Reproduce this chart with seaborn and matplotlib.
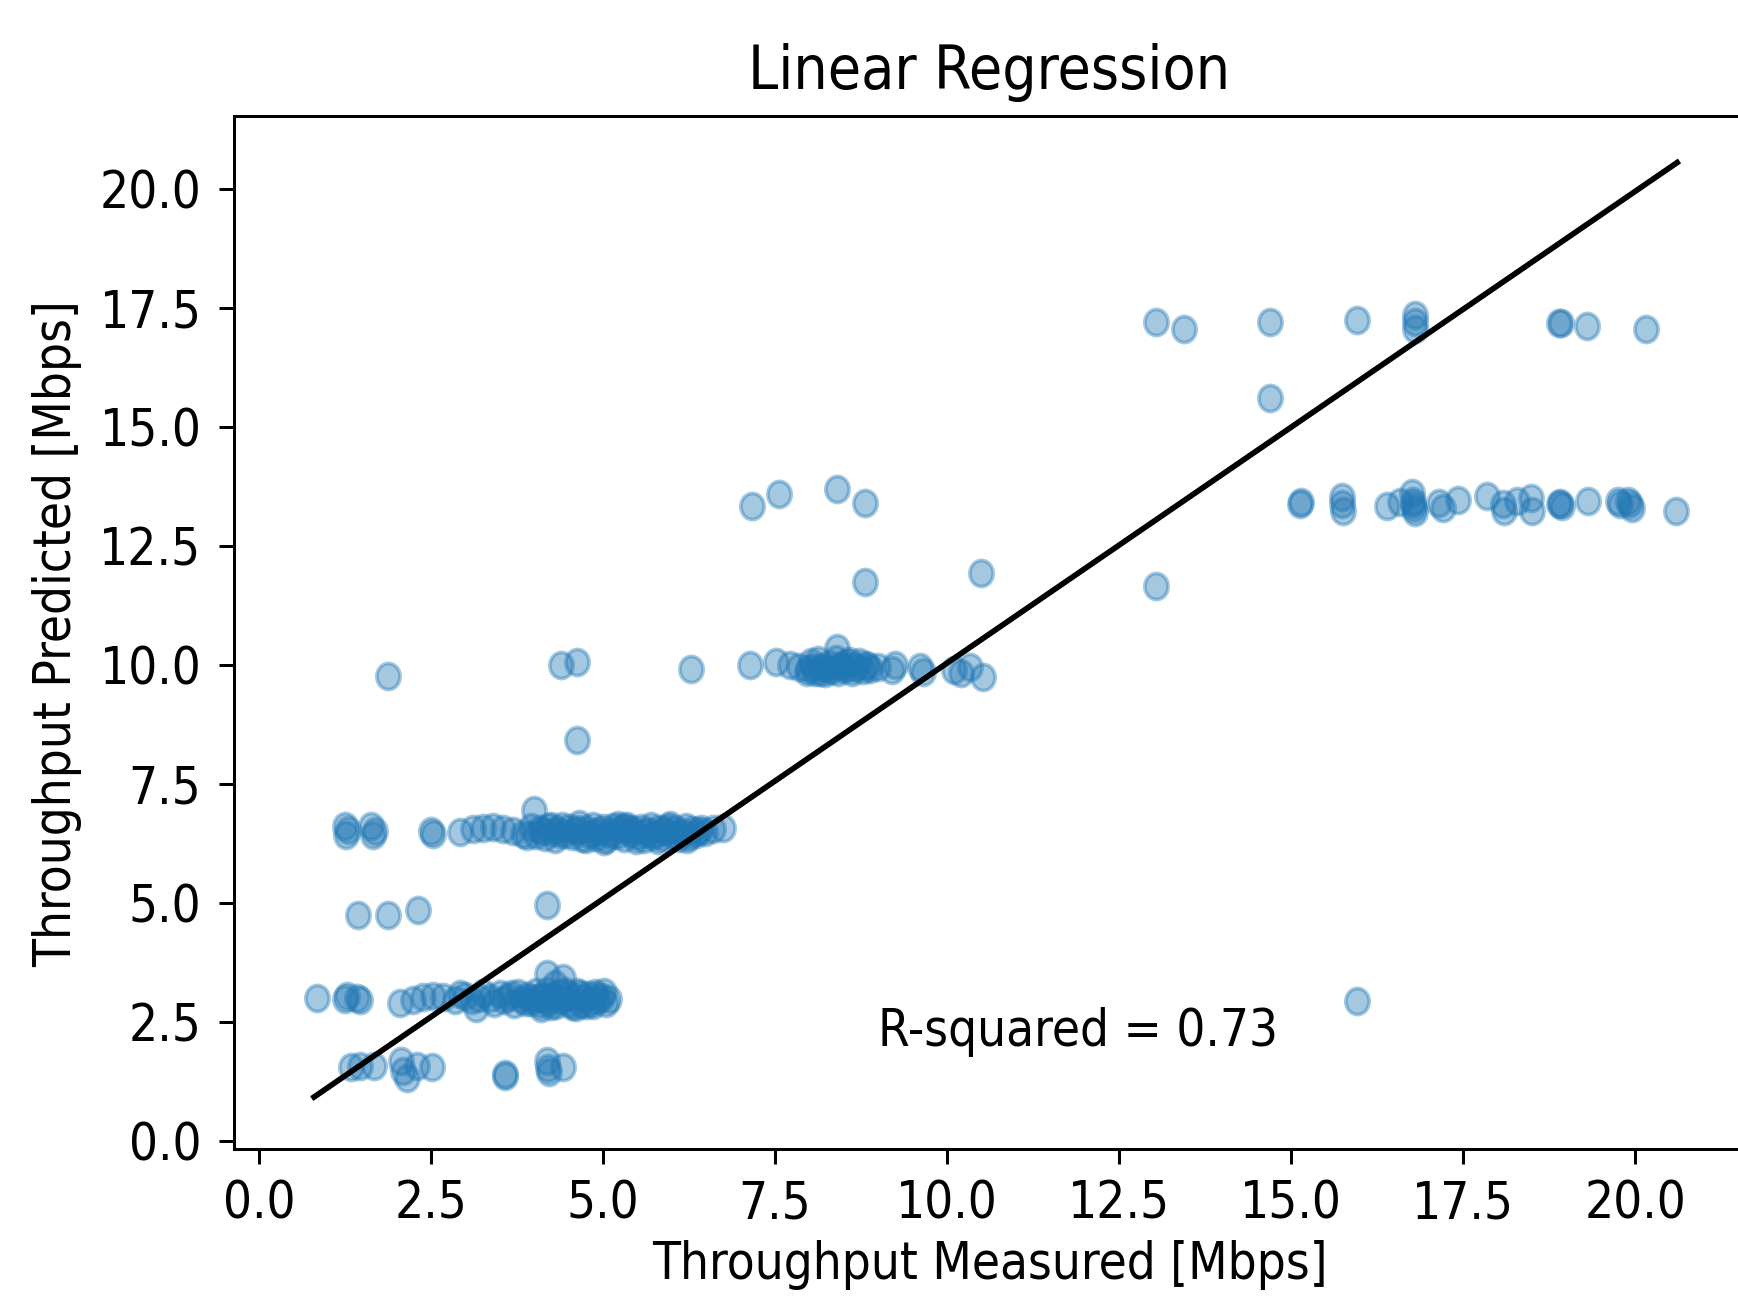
import numpy as np
import pandas as pd
import matplotlib
matplotlib.use("Agg")
import matplotlib.pyplot as plt
from matplotlib.path import Path
import seaborn as sns

# measured vs predicted throughput
# lowest band (~1.5 Mbps predicted)
x_band1 = [1.33, 1.47, 1.67, 2.07, 2.09, 2.15, 2.29, 2.52, 3.57, 3.58, 4.18, 4.20, 4.22, 4.42]
y_band1 = [1.55, 1.58, 1.58, 1.68, 1.46, 1.32, 1.58, 1.56, 1.36, 1.40, 1.68, 1.52, 1.45, 1.55]

# ~3 Mbps band
x_band3 = [0.84, 1.25, 1.28, 1.42, 1.47, 2.05, 2.24, 2.38, 2.53, 2.67, 2.85, 2.92, 3.00, 3.10,
           3.16, 3.20, 3.25,
           3.36, 3.42, 3.50, 3.56, 3.62, 3.70, 3.76, 3.82, 3.90, 3.96, 4.02, 4.08, 4.12, 4.18,
           4.22, 4.28, 4.32, 4.38, 4.42, 4.48, 4.52, 4.58, 4.62, 4.68, 4.72, 4.78, 4.82, 4.88,
           4.92, 4.98, 5.02, 5.08, 4.19, 4.42, 4.30, 4.10, 4.60, 4.85,
           3.66, 3.86, 4.05, 4.25, 4.45, 4.55, 4.66, 4.75, 4.90, 5.05, 4.35, 4.15, 3.95]
y_band3 = [3.00, 2.98, 3.05, 3.00, 2.95, 2.90, 2.95, 3.02, 3.05, 3.02, 2.95, 3.08, 3.05, 2.95,
           2.78, 3.00, 3.10,
           3.00, 2.90, 3.08, 2.95, 3.02, 2.88, 3.10, 2.98, 3.05, 2.92, 3.12, 2.88, 3.00, 3.15,
           2.92, 3.05, 2.86, 3.10, 2.98, 3.08, 2.90, 3.02, 3.12, 2.88, 3.00, 3.06, 2.92, 3.10,
           2.95, 3.02, 3.12, 2.98, 3.50, 3.42, 3.30, 2.80, 2.82, 2.86,
           3.08, 2.92, 3.00, 2.84, 3.14, 2.84, 3.08, 2.86, 3.04, 2.90, 2.96, 3.05, 3.00]

# ~4.8 Mbps points
x_band5 = [1.44, 1.88, 2.31, 4.18]
y_band5 = [4.75, 4.75, 4.85, 4.95]

# ~6.5 Mbps band
x_band65 = [1.25, 1.27, 1.30, 1.63, 1.66, 1.68, 2.50, 2.53, 2.92, 3.11, 3.26, 3.40, 3.55, 3.69,
            3.84, 3.95, 3.99, 3.90,
            4.02, 4.08, 4.15, 4.20, 4.26, 4.30, 4.35, 4.40, 4.45, 4.50, 4.55, 4.60, 4.65, 4.70,
            4.75, 4.80, 4.85, 4.90, 4.95, 5.00, 5.05, 5.10, 5.15, 5.20, 5.25, 5.30, 5.35, 5.40,
            5.45, 5.50, 5.55, 5.60, 5.65, 5.70, 5.75, 5.80, 5.85, 5.90, 5.95, 6.00, 6.05, 6.10,
            6.15, 6.20, 6.25, 6.30, 6.35, 6.42, 6.48, 6.60, 6.74,
            5.02, 5.22, 5.48, 5.72, 5.98, 6.22,
            4.12, 4.38, 4.62, 4.88, 5.12, 5.38, 5.62, 5.88, 6.12, 6.38, 4.25, 4.75, 5.30, 5.80]
y_band65 = [6.62, 6.42, 6.52, 6.62, 6.42, 6.50, 6.50, 6.45, 6.48, 6.55, 6.58, 6.60, 6.55, 6.50,
            6.45, 6.60, 6.95, 6.40,
            6.42, 6.55, 6.38, 6.60, 6.48, 6.35, 6.52, 6.62, 6.45, 6.58, 6.40, 6.50, 6.65, 6.36,
            6.55, 6.45, 6.62, 6.38, 6.50, 6.58, 6.34, 6.48, 6.60, 6.42, 6.55, 6.36, 6.62, 6.46,
            6.52, 6.40, 6.58, 6.34, 6.50, 6.62, 6.44, 6.56, 6.38, 6.50, 6.60, 6.42, 6.54, 6.36,
            6.48, 6.60, 6.40, 6.52, 6.44, 6.56, 6.48, 6.55, 6.58,
            6.30, 6.64, 6.32, 6.40, 6.64, 6.34,
            6.50, 6.44, 6.54, 6.48, 6.42, 6.56, 6.46, 6.52, 6.44, 6.50, 6.62, 6.34, 6.60, 6.32]

# ~10 Mbps band
x_band10 = [7.14, 7.52, 7.72, 7.85, 7.96,
            7.98, 8.02, 8.08, 8.12, 8.18, 8.22, 8.28, 8.32, 8.38, 8.42, 8.48, 8.52, 8.58, 8.62,
            8.68, 8.72, 8.78, 8.82, 8.88, 8.40,
            9.00, 9.20, 9.25, 9.60, 9.65, 10.10, 10.20, 10.33, 10.52,
            8.05, 8.25, 8.45, 8.65, 8.85, 8.15, 8.55]
y_band10 = [10.00, 10.05, 10.00, 9.95, 9.85,
            9.92, 10.05, 9.85, 10.10, 9.95, 9.82, 10.02, 9.90, 10.12, 9.85, 10.00, 9.92, 10.08,
            9.84, 9.98, 10.06, 9.88, 10.00, 9.92, 10.35,
            9.95, 9.90, 10.00, 9.95, 9.85, 9.88, 9.82, 9.95, 9.75,
            9.96, 9.94, 9.96, 9.94, 9.98, 9.84, 10.04]

# ~13.4 Mbps band
x_band13 = [15.13, 15.15, 15.74, 15.74, 15.76, 16.39, 16.58, 16.75, 16.77, 16.78, 16.80, 16.77,
            17.15, 17.20, 17.43, 17.84, 18.08, 18.10, 18.28, 18.49, 18.50, 18.89, 18.91, 18.93,
            19.32, 19.75, 19.78, 19.90, 19.93, 19.95, 20.60]
y_band13 = [13.38, 13.42, 13.52, 13.38, 13.23, 13.34, 13.42, 13.60, 13.45, 13.30, 13.20, 13.38,
            13.40, 13.30, 13.47, 13.55, 13.38, 13.23, 13.45, 13.50, 13.22, 13.38, 13.40, 13.34,
            13.45, 13.45, 13.38, 13.45, 13.38, 13.30, 13.24]

# ~17.2 Mbps band
x_band17 = [13.03, 13.45, 14.70, 15.96, 16.80, 16.80, 16.80, 18.90, 18.92, 19.30, 20.16]
y_band17 = [17.20, 17.06, 17.20, 17.24, 17.35, 17.20, 17.05, 17.17, 17.17, 17.12, 17.06]

# scattered outliers
x_other = [1.88, 4.39, 4.62, 4.62, 6.28, 7.16, 7.56, 8.40, 8.80, 8.80, 10.50,
           14.70, 13.03, 15.96]
y_other = [9.76, 9.99, 10.06, 8.42, 9.92, 13.34, 13.59, 13.70, 13.40, 11.73, 11.92,
           15.60, 11.66, 2.94]

# fitted regression line
fit_x = [0.80, 20.61]
fit_y = [0.92, 20.55]
r_squared = 0.73

df = pd.DataFrame({
    "measured": x_band1 + x_band3 + x_band5 + x_band65 + x_band10 + x_band13 + x_band17 + x_other,
    "predicted": y_band1 + y_band3 + y_band5 + y_band65 + y_band10 + y_band13 + y_band17 + y_other,
})
fit = pd.DataFrame({"x": fit_x, "y": fit_y})

# the original image is slightly stretched vertically: taller glyphs, oval markers
plt.rcParams['font.stretch'] = 'condensed'
circ = Path.unit_circle()
oval = Path(circ.vertices * np.array([0.89, 1.0]), circ.codes)

fig = plt.figure(figsize=(6.4, 4.8), dpi=271.6)
ax = fig.add_axes([0.13435, 0.1182, 0.8697, 0.7920])

sns.scatterplot(data=df, x="measured", y="predicted", ax=ax, color="#1f77b4", marker=oval,
                alpha=0.4, s=48, edgecolor="#1f77b4", linewidth=1.0, legend=False)
sns.lineplot(data=fit, x="x", y="y", ax=ax, color="black", linewidth=1.5)

ax.text(9.0, 2.0, f"R-squared = {r_squared:.2f}", fontsize=13.5)

ax.set_xlim(-0.37, 21.6)
ax.set_ylim(-0.17, 21.52)
ticks = [0.0, 2.5, 5.0, 7.5, 10.0, 12.5, 15.0, 17.5, 20.0]
ax.set_xticks(ticks)
ax.set_yticks(ticks)
ax.set_xticklabels([f"{t:.1f}" for t in ticks])
ax.set_yticklabels([f"{t:.1f}" for t in ticks])
ax.tick_params(labelsize=13.5, length=4)
ax.tick_params(axis="x", pad=3.8)
ax.tick_params(axis="y", pad=4.5)

ax.set_title("Linear Regression", fontsize=16, pad=7.5)
ax.set_xlabel("Throughput Measured [Mbps]", fontsize=13.5, labelpad=3)
ax.set_ylabel("Throughput Predicted [Mbps]", fontsize=13.5, labelpad=4.5)

fig.savefig("out.png", dpi=271.6)
